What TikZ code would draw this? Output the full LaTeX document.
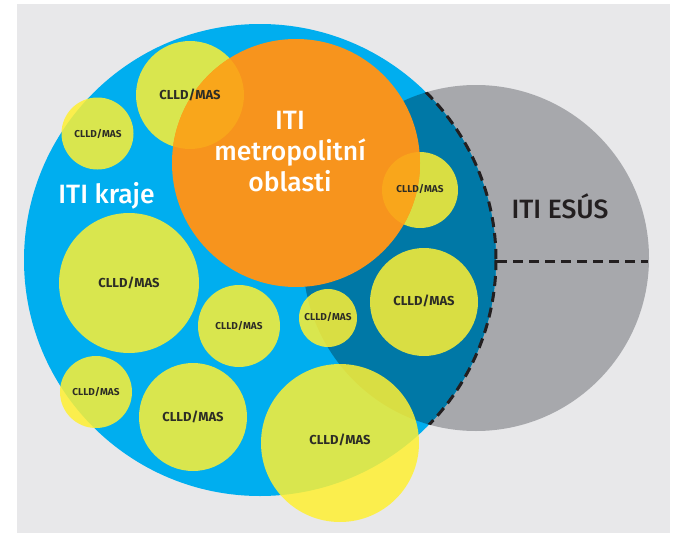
\documentclass[tikz,border=0pt]{standalone}
\usepackage{fontspec}
\setmainfont{Fira Sans}
\newfontfamily\medfont{Fira Sans}[UprightFont={* Medium}]
\definecolor{bgc}{RGB}{232,232,234}
\definecolor{greyc}{RGB}{167,168,172}
\definecolor{bluec}{RGB}{0,174,239}
\definecolor{dbluec}{RGB}{0,120,166}
\definecolor{orangec}{RGB}{247,148,29}
\definecolor{lorangec}{RGB}{249,166,27}
\definecolor{yelc}{RGB}{255,240,50}
\definecolor{labc}{RGB}{45,45,38}
\definecolor{darkc}{RGB}{35,31,32}
\begin{document}
\begin{tikzpicture}[x=1pt,y=-1pt,
  cll/.style={fill=yelc,fill opacity=0.85},
  biglab/.style={text=labc,font=\bfseries\fontsize{13}{13}\selectfont,inner sep=0pt},
  smalllab/.style={text=labc,font=\bfseries\fontsize{10}{10}\selectfont,inner sep=0pt},
  title/.style={font=\medfont\fontsize{26.5}{31}\selectfont,inner sep=0pt},
  dashline/.style={draw=darkc,line width=3pt,dash pattern=on 10pt off 6pt}]
\useasboundingbox (0,0) rectangle (673,533);
\fill[bgc] (17,4) rectangle (670,533);
% ITI ESUS
\fill[greyc] (476,258) circle[radius=173];
% ITI kraje
\fill[bluec] (260,260) circle[radius=236];
\begin{scope}
  \clip (476,258) circle[radius=173];
  \fill[dbluec] (260,260) circle[radius=236];
  \draw[dashline] (260,260) circle[radius=236];
\end{scope}
\coordinate (hd1) at (497,261);
\coordinate (hd2) at (648,261);
\draw[dashline] (hd1) -- (hd2);
% CLLD/MAS circles
\fill[cll] (190,95) circle[radius=54];
\fill[cll] (97.5,133.5) circle[radius=36];
\fill[cll] (420,190) circle[radius=38];
\fill[cll] (129,283) circle[radius=70];
\fill[cll] (239,326) circle[radius=41];
\fill[cll] (328,318) circle[radius=29];
\fill[cll] (424,302) circle[radius=54];
\fill[cll] (96,392) circle[radius=36];
\fill[cll] (193,417) circle[radius=54];
\fill[cll] (340,443) circle[radius=79];
% ITI metropolitni oblasti
\fill[orangec] (296,163) circle[radius=124];
\begin{scope}
  \clip (296,163) circle[radius=124];
  \fill[lorangec] (190,95) circle[radius=54];
  \fill[lorangec] (420,190) circle[radius=38];
\end{scope}
% labels
\node[biglab] (l1) at (190,95) {CLLD/MAS};
\node[smalllab] (l2) at (98,134) {CLLD/MAS};
\node[smalllab] (l3) at (420,189) {CLLD/MAS};
\node[biglab] (l4) at (129,283) {CLLD/MAS};
\node[smalllab] (l5) at (239,326) {CLLD/MAS};
\node[smalllab] (l6) at (328,317) {CLLD/MAS};
\node[biglab] (l7) at (424,301) {CLLD/MAS};
\node[smalllab] (l8) at (96,392) {CLLD/MAS};
\node[biglab] (l9) at (193,417) {CLLD/MAS};
\node[biglab] (l10) at (340,440) {CLLD/MAS};
\node[title,text=white,anchor=base] (kraje) at (106.5,203) {ITI kraje};
\node[title,text=darkc,anchor=base] (esus) at (560,218) {ITI ESÚS};
\node[title,text=white,align=center] (metro) at (290,152) {ITI\\metropolitní\\oblasti};
\end{tikzpicture}
\end{document}
